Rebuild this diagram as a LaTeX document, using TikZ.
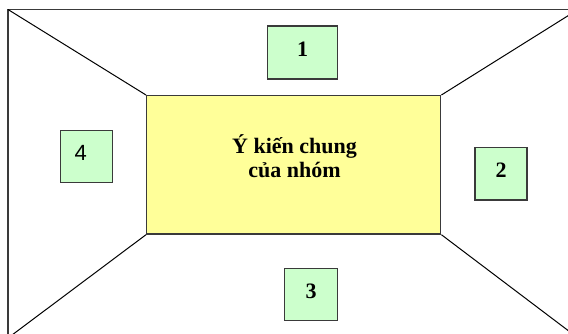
\documentclass[tikz,border=0pt]{standalone}
\usepackage{fontspec}
\setmainfont{Liberation Serif}
\newfontfamily\digitsans{Liberation Sans}
\definecolor{paleyellow}{HTML}{FFFF99}
\definecolor{palegreen}{HTML}{CCFFCC}
\definecolor{edgegray}{HTML}{3A3A3A}
\begin{document}
\begin{tikzpicture}[x=1pt,y=-1pt,
  frame/.style={draw=edgegray,line width=1.2pt},
  spoke/.style={draw=black,line width=1pt},
  centerbox/.style={draw=edgegray,line width=1.4pt,fill=paleyellow,
    minimum width=294pt,minimum height=138.3pt,inner sep=0pt},
  numbox/.style={draw=edgegray,line width=1.2pt,fill=palegreen,
    inner sep=0pt,text height=15pt,text depth=7pt,
    font=\fontsize{22}{24}\selectfont\bfseries}]
  \useasboundingbox (0,0) rectangle (568,333);
  \clip (0,0) rectangle (568,333);
  % outer frame corners (the right and bottom sides run off the page)
  \coordinate (otl) at (8,9.5);
  \coordinate (otr) at (578,9.5);
  \coordinate (obr) at (578,338);
  \coordinate (obl) at (8,338);
  \draw[frame] (otl) -- (otr) -- (obr) -- (obl) -- cycle;
  % central panel
  \node[centerbox] (mid) at (293.7,164.85) {};
  \draw[spoke] (otl) -- (mid.north west);
  \draw[spoke] (otr) -- (mid.north east);
  \draw[spoke] (obr) -- (mid.south east);
  \draw[spoke] (obl) -- (mid.south west);
  \node[align=center,inner sep=0pt,anchor=base,
    font=\fontsize{22}{24}\selectfont\bfseries] (title) at (294.5,177.3)
    {Ý kiến chung\\của nhóm};
  % numbered boxes
  \node[numbox,minimum width=69.6pt,minimum height=53pt] (b1) at (302.5,52.5) {1};
  \node[numbox,minimum width=52pt,minimum height=52.7pt] (b2) at (501,173.7) {2};
  \node[numbox,minimum width=52.6pt,minimum height=52.4pt] (b3) at (311,294.5) {3};
  \node[numbox,minimum width=52pt,minimum height=51.6pt,
    font=\fontsize{22}{24}\selectfont\digitsans] (b4) at (86.3,156.5) {\kern-11pt 4};
\end{tikzpicture}
\end{document}
